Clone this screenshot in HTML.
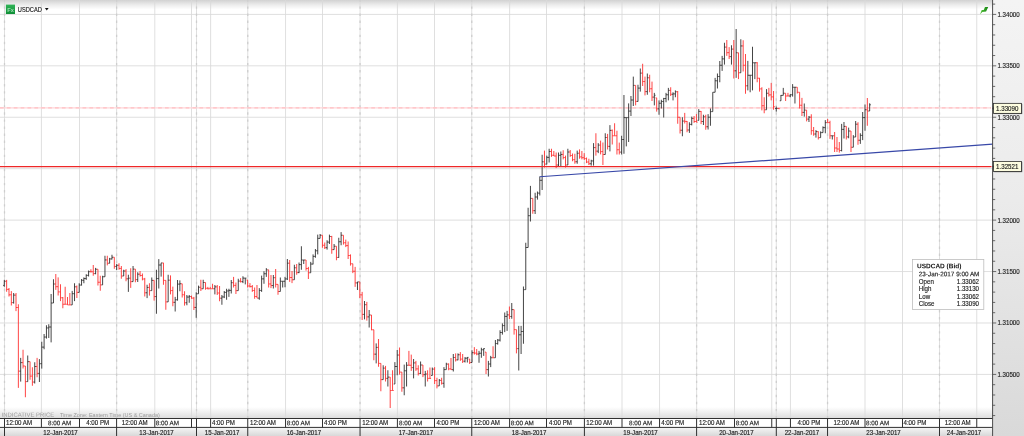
<!DOCTYPE html><html><head><meta charset="utf-8"><title>USDCAD</title><style>html,body{margin:0;padding:0;background:#fff;overflow:hidden}svg{display:block}</style></head><body><svg width="1024" height="436" viewBox="0 0 1024 436" font-family="Liberation Sans, sans-serif" font-size="6.55" stroke-width="0.15">
<defs>
<linearGradient id="gt" x1="0" y1="0" x2="0" y2="1"><stop offset="0" stop-color="#d2d2d2"/><stop offset="0.55" stop-color="#eeeeee"/><stop offset="1" stop-color="#ffffff"/></linearGradient>
<linearGradient id="gb" x1="0" y1="0" x2="0" y2="1"><stop offset="0" stop-color="#ffffff"/><stop offset="1" stop-color="#dcdcdc"/></linearGradient>
<linearGradient id="gi" x1="0" y1="0" x2="0" y2="1"><stop offset="0" stop-color="#2fb457"/><stop offset="1" stop-color="#0f8f37"/></linearGradient>
<linearGradient id="gg" x1="0" y1="0" x2="1" y2="0"><stop offset="0" stop-color="#58c63a"/><stop offset="1" stop-color="#128212"/></linearGradient>
<linearGradient id="gr" x1="0" y1="0" x2="0" y2="1"><stop offset="0" stop-color="#f4f4f4"/><stop offset="0.46" stop-color="#ebebeb"/><stop offset="1" stop-color="#d9d9d9"/></linearGradient>
<linearGradient id="gd" x1="0" y1="0" x2="0" y2="1"><stop offset="0" stop-color="#f6f6f6"/><stop offset="1" stop-color="#d8d8d8"/></linearGradient>
</defs>
<rect width="1024" height="436" fill="#fff"/>
<rect x="0" y="0" width="992.6" height="9.5" fill="url(#gt)"/>
<rect x="0" y="407" width="992.6" height="11.5" fill="url(#gb)"/>
<rect x="992.6" y="0" width="31.399999999999977" height="436" fill="url(#gr)"/>
<g stroke="#d9d9d9" stroke-width="0.85" fill="none"><line x1="0" x2="992.6" y1="14.40" y2="14.40"/><line x1="0" x2="992.6" y1="65.83" y2="65.83"/><line x1="0" x2="992.6" y1="117.26" y2="117.26"/><line x1="0" x2="992.6" y1="168.69" y2="168.69"/><line x1="0" x2="992.6" y1="220.12" y2="220.12"/><line x1="0" x2="992.6" y1="271.55" y2="271.55"/><line x1="0" x2="992.6" y1="322.98" y2="322.98"/><line x1="0" x2="992.6" y1="374.41" y2="374.41"/><line x1="4.5" x2="4.5" y1="0" y2="418.5"/><line x1="41.4" x2="41.4" y1="0" y2="418.5"/><line x1="79.5" x2="79.5" y1="0" y2="418.5"/><line x1="116.6" x2="116.6" y1="0" y2="418.5"/><line x1="154.8" x2="154.8" y1="0" y2="418.5"/><line x1="191.5" x2="191.5" y1="0" y2="418.5"/><line x1="196.5" x2="196.5" y1="0" y2="418.5"/><line x1="210.6" x2="210.6" y1="0" y2="418.5"/><line x1="247.75" x2="247.75" y1="0" y2="418.5"/><line x1="285.55" x2="285.55" y1="0" y2="418.5"/><line x1="322.5" x2="322.5" y1="0" y2="418.5"/><line x1="360.05" x2="360.05" y1="0" y2="418.5"/><line x1="397.4" x2="397.4" y1="0" y2="418.5"/><line x1="434.5" x2="434.5" y1="0" y2="418.5"/><line x1="471.75" x2="471.75" y1="0" y2="418.5"/><line x1="509.6" x2="509.6" y1="0" y2="418.5"/><line x1="546.5" x2="546.5" y1="0" y2="418.5"/><line x1="584.4" x2="584.4" y1="0" y2="418.5"/><line x1="622.0" x2="622.0" y1="0" y2="418.5"/><line x1="659.55" x2="659.55" y1="0" y2="418.5"/><line x1="696.6" x2="696.6" y1="0" y2="418.5"/><line x1="734.5" x2="734.5" y1="0" y2="418.5"/><line x1="771.75" x2="771.75" y1="0" y2="418.5"/><line x1="776.3" x2="776.3" y1="0" y2="418.5"/><line x1="790.45" x2="790.45" y1="0" y2="418.5"/><line x1="827.55" x2="827.55" y1="0" y2="418.5"/><line x1="865" x2="865" y1="0" y2="418.5"/><line x1="902.5" x2="902.5" y1="0" y2="418.5"/><line x1="939.5" x2="939.5" y1="0" y2="418.5"/><line x1="976.75" x2="976.75" y1="0" y2="418.5"/></g>
<g stroke="#cecece" stroke-width="1.3" fill="none" stroke-dasharray="2.4 4.66" stroke-dashoffset="0.6"><line x1="4.5" x2="4.5" y1="0" y2="418.5"/><line x1="116.6" x2="116.6" y1="0" y2="418.5"/><line x1="196.5" x2="196.5" y1="0" y2="418.5"/><line x1="247.75" x2="247.75" y1="0" y2="418.5"/><line x1="360.05" x2="360.05" y1="0" y2="418.5"/><line x1="471.75" x2="471.75" y1="0" y2="418.5"/><line x1="584.4" x2="584.4" y1="0" y2="418.5"/><line x1="696.6" x2="696.6" y1="0" y2="418.5"/><line x1="776.3" x2="776.3" y1="0" y2="418.5"/><line x1="827.55" x2="827.55" y1="0" y2="418.5"/><line x1="939.5" x2="939.5" y1="0" y2="418.5"/></g>
<line x1="0" x2="991" y1="107.9" y2="107.9" stroke="#ffd6d8" stroke-width="1.25"/>
<line x1="0" x2="991" y1="107.9" y2="107.9" stroke="#ffc0c4" stroke-width="1.25" stroke-dasharray="3.7 3.175"/>
<g stroke-width="0.9" fill="none"><path stroke="#ff3030" d="M6.65 279.88V291.75M5.5 281.25H6.65M6.65 289.38H7.8M8.99 288V296.5M7.84 289.38H8.99M8.99 294.8H10.14M11.33 291.12V305.5M10.18 294.8H11.33M11.33 302.62H12.48M16.01 293V311.12M14.86 295.12H16.01M16.01 307.5H17.16M18.36 304.25V387.88M17.21 307.5H18.36M18.36 371.15H19.51M23.04 349.75V368.5M21.89 362.62H23.04M23.04 366H24.19M25.38 366V397.25M24.23 366H25.38M25.38 381.62H26.53M30.06 361.62V379.75M28.91 361.62H30.06M30.06 376.12H31.21M32.4 367.25V385.75M31.25 376.12H32.4M32.4 382.05H33.55M37.08 357.88V377.25M35.93 366.5H37.08M37.08 373.38H38.23M55.81 274V289.88M54.66 284H55.81M55.81 286.7H56.96M58.15 277.38V295.5M57 286.7H58.15M58.15 291.88H59.3M60.49 284.25V301.12M59.34 291.88H60.49M60.49 297.75H61.64M62.83 297V308.25M61.68 297.75H62.83M62.83 304.25H63.98M65.17 286.75V304.25M64.02 304.25H65.17M65.17 304.25H66.32M67.51 297V304.88M66.36 304.25H67.51M67.51 304.88H68.66M69.85 293V304.88M68.7 304.88H69.85M69.85 304.88H71M76.87 285.5V298M75.72 286.82H76.87M76.87 292.38H78.02M90.92 269.25V272.38M89.77 271.7H90.92M90.92 271.75H92.07M93.26 265V275.75M92.11 271.75H93.26M93.26 273.6H94.41M97.94 269.25V285.5M96.79 269.25H97.94M97.94 282.25H99.09M100.28 275.75V290.75M99.13 282.25H100.28M100.28 284.88H101.43M107.3 255.75V265.38M106.15 259.95H107.3M107.3 263.25H108.45M114.32 257.25V268.75M113.17 257.25H114.32M114.32 266.45H115.47M119 263.25V269.75M117.85 265.3H119M119 268.45H120.15M121.34 266V278.75M120.19 268.45H121.34M121.34 276H122.49M126.03 269.12V281.25M124.88 271H126.03M126.03 278.82H127.18M130.71 268.25V287.88M129.56 278.18H130.71M130.71 281.62H131.86M135.39 269.12V282.25M134.24 269.12H135.39M135.39 279.62H136.54M140.07 271V276.62M138.92 274.2H140.07M140.07 275.5H141.22M142.41 273.5V280.38M141.26 275.5H142.41M142.41 279H143.56M144.75 277.88V296.5M143.6 279H144.75M144.75 292.77H145.9M149.43 283.25V295.62M148.28 287.43H149.43M149.43 290.62H150.58M154.11 280.38V300.62M152.96 280.38H154.11M154.11 296.57H155.26M163.48 262.88V284.75M162.33 262.94H163.48M163.48 280.38H164.63M165.82 280.38V309.75M164.67 280.38H165.82M165.82 301.88H166.97M170.5 275.38V294.38M169.35 280.18H170.5M170.5 290.57H171.65M172.84 286.62V306.25M171.69 290.57H172.84M172.84 302.32H173.99M182.2 283.75V297.5M181.05 283.75H182.2M182.2 294.75H183.35M184.54 291.25V305.62M183.39 294.75H184.54M184.54 302.75H185.69M191.56 295.62V298.75M190.41 296.55H191.56M191.56 298.12H192.71M193.9 296.88V310M192.75 298.12H193.9M193.9 307.38H195.05M200.87 279.75V291M199.72 287.25H200.87M200.87 288.75H202.02M205.54 282.5V289.75M204.39 282.5H205.54M205.54 288.3H206.69M207.88 286.88V289.38M206.73 288.3H207.88M207.88 288.75H209.03M210.22 286.88V288.75M209.07 288.75H210.22M210.22 288.75H211.37M212.55 283.75V288.75M211.4 288.75H212.55M212.55 288.75H213.7M217.23 285V295M216.08 286.88H217.23M217.23 293H218.38M219.57 286V301.25M218.42 293H219.57M219.57 298.2H220.72M233.59 276.88V287.5M232.44 282.7H233.59M233.59 285.38H234.74M235.93 282.5V294M234.78 285.38H235.93M235.93 290.62H237.08M240.6 278.12V282.5M239.45 281.12H240.6M240.6 281.62H241.75M247.62 280V287.5M246.47 280H247.62M247.62 286H248.77M249.95 283.12V287.5M248.8 286H249.95M249.95 286.62H251.1M252.29 285V291.88M251.14 286.62H252.29M252.29 290.5H253.44M254.63 287.5V298.75M253.48 290.5H254.63M254.63 296.5H255.78M256.97 285V298.12M255.82 296.5H256.97M256.97 298.12H258.12M268.65 269.75V287.5M267.5 269.88H268.65M268.65 283.95H269.8M270.99 275V288.12M269.84 283.95H270.99M270.99 285.5H272.14M275.67 269V287.5M274.52 277.7H275.67M275.67 284.38H276.82M278 284.38V294.75M276.85 284.38H278M278 291.5H279.15M289.69 260V281.88M288.54 263.2H289.69M289.69 277.5H290.84M292.03 271V283.12M290.88 277.5H292.03M292.03 279.75H293.18M296.7 264V274.75M295.55 267.75H296.7M296.7 272.6H297.85M306.05 260V270.62M304.9 260H306.05M306.05 268.5H307.2M308.39 266.88V279M307.24 268.5H308.39M308.39 272.75H309.54M322.42 235.25V247.75M321.27 235.25H322.42M322.42 245.25H323.57M324.75 242.5V249M323.6 245.25H324.75M324.75 247.7H325.9M331.77 235.88V253.75M330.62 236.5H331.77M331.77 249.62H332.92M336.44 246.25V260.25M335.29 246.25H336.44M336.44 257.45H337.59M343.45 235.25V244.62M342.3 235.25H343.45M343.45 242.75H344.6M345.79 239.62V247.12M344.64 242.75H345.79M345.79 245.62H346.94M348.13 241.5V259M346.98 245.62H348.13M348.13 255.5H349.28M350.47 254.38V265.62M349.32 255.5H350.47M350.47 263.75H351.62M352.8 263.75V273.12M351.65 263.75H352.8M352.8 271.25H353.95M355.14 266.88V286.88M353.99 271.25H355.14M355.14 282.88H356.29M359.82 281.88V298.12M358.67 281.88H359.82M359.82 294.88H360.97M362.15 291.88V320M361 294.88H362.15M362.15 314.38H363.3M366.83 301.88V320.62M365.68 304.68H366.83M366.83 316.88H367.98M371.5 315V330.25M370.35 315H371.5M371.5 329.75H372.65M373.84 329.75V360.25M372.69 329.75H373.84M373.84 354.15H374.99M378.52 339V366.75M377.37 347.38H378.52M378.52 363.38H379.67M380.85 363.38V391.25M379.7 363.38H380.85M380.85 379.62H382M385.53 365.88V381.5M384.38 368.12H385.53M385.53 378.38H386.68M390.2 377.12V408M389.05 377.12H390.2M390.2 390.5H391.35M392.54 370.25V390.5M391.39 390.5H392.54M392.54 390.5H393.69M399.55 347.5V374.62M398.4 355.05H399.55M399.55 372.12H400.7M401.89 372.12V391.75M400.74 372.12H401.89M401.89 387.82H403.04M408.9 350.88V365.25M407.75 365.25H408.9M408.9 365.25H410.05M411.24 354.62V370.88M410.09 365.25H411.24M411.24 367.62H412.39M415.92 360.88V370.88M414.77 362.88H415.92M415.92 368.88H417.07M418.25 365.25V375.5M417.1 368.88H418.25M418.25 373.45H419.4M422.93 365V377.12M421.78 365H422.93M422.93 374.7H424.08M427.6 370.25V381.5M426.45 374H427.6M427.6 378.38H428.75M429.94 367.5V378.38M428.79 378.38H429.94M429.94 378.38H431.09M434.61 367.12V384M433.46 369.1H434.61M434.61 380.62H435.76M436.95 377.75V388.38M435.8 380.62H436.95M436.95 385.88H438.1M441.63 377.75V384.62M440.48 380.38H441.63M441.63 383.25H442.78M448.64 363.38V370.25M447.49 364.12H448.64M448.64 368.88H449.79M450.98 358V369.62M449.83 368.88H450.98M450.98 369.62H452.13M455.65 353.38V361.5M454.5 357.5H455.65M455.65 359.88H456.8M460.33 352.12V360.88M459.18 354.75H460.33M460.33 359.12H461.48M462.66 354V363M461.51 359.12H462.66M462.66 361.2H463.81M469.68 359V364M468.53 359H469.68M469.68 362.5H470.83M474.35 347.12V354.62M473.2 352.7H474.35M474.35 353.12H475.5M476.69 349V355.25M475.54 353.12H476.69M476.69 354H477.84M486.04 352.12V374M484.89 352.12H486.04M486.04 369.62H487.19M493.05 346.25V357.75M491.9 357.75H493.05M493.05 357.75H494.2M509.41 306.5V319M508.26 314.88H509.41M509.41 316.5H510.56M514.09 309.62V334.62M512.94 309.62H514.09M514.09 329.62H515.24M516.43 329.62V353.38M515.28 329.62H516.43M516.43 348.62H517.58M532.79 198.38V213.75M531.64 198.38H532.79M532.79 210.68H533.94M544.48 150.62V167.5M543.33 161.8H544.48M544.48 164.12H545.63M551.49 148.75V156.88M550.34 151.5H551.49M551.49 155.25H552.64M553.83 151V156M552.68 155.25H553.83M553.83 156H554.98M556.16 152.5V168.12M555.01 156H556.16M556.16 165H557.31M563.18 150.25V159.38M562.03 154.45H563.18M563.18 157.55H564.33M565.51 155.62V167.5M564.36 157.55H565.51M565.51 165H566.66M570.19 150V156.88M569.04 152H570.19M570.19 155.5H571.34M572.53 153.5V161.25M571.38 155.5H572.53M572.53 159.7H573.68M574.86 153.75V163.75M573.71 159.7H574.86M574.86 161.75H576.01M579.54 149.38V158.75M578.39 153.25H579.54M579.54 156.88H580.69M581.88 151V159.38M580.73 156.88H581.88M581.88 157.7H583.03M584.21 153.12V160M583.06 157.7H584.21M584.21 158.62H585.36M586.55 157.5V163.12M585.4 158.62H586.55M586.55 162H587.7M588.89 158.75V165M587.74 162H588.89M588.89 163.75H590.04M595.9 133.25V155.62M594.75 147.62H595.9M595.9 151.15H597.05M600.58 140.62V154.38M599.43 145.12H600.58M600.58 151.62H601.73M602.91 142.5V165M601.76 151.62H602.91M602.91 154.5H604.06M607.59 133.88V149.5M606.44 137.5H607.59M607.59 146.38H608.74M612.26 129.5V144.5M611.11 130.38H612.26M612.26 135.75H613.41M614.6 123.25V135.75M613.45 135.75H614.6M614.6 135.75H615.75M616.94 130.75V154.5M615.79 135.75H616.94M616.94 149.75H618.09M619.28 142.62V154.5M618.13 149.75H619.28M619.28 152.12H620.43M635.64 85.38V105.38M634.49 85.38H635.64M635.64 101.38H636.79M642.65 63.75V86M641.5 73.12H642.65M642.65 81.55H643.8M644.99 76.62V95.38M643.84 81.55H644.99M644.99 91.62H646.14M649.66 74.75V92.25M648.51 77.75H649.66M649.66 88.75H650.81M652 81.62V101M650.85 88.75H652M652 97.12H653.15M656.68 97.88V111.62M655.53 97.88H656.68M656.68 108.88H657.83M670.7 87.25V96M669.55 90.38H670.7M670.7 94.25H671.85M677.71 91V123.75M676.56 91.75H677.71M677.71 117.25H678.86M680.05 117.25V133.5M678.9 117.25H680.05M680.05 130.25H681.2M684.73 112.88V123.5M683.58 121.05H684.73M684.73 121.38H685.88M687.06 121V132.25M685.91 121.38H687.06M687.06 130H688.21M694.08 116V122.88M692.93 118.38H694.08M694.08 121.5H695.23M696.41 114.12V122.25M695.26 121.5H696.41M696.41 122.25H697.56M701.09 111V124.12M699.94 111.38H701.09M701.09 121.5H702.24M705.76 114.75V129.75M704.61 116.8H705.76M705.76 126.75H706.91M726.8 40V55.88M725.65 47.12H726.8M726.8 52.7H727.95M729.14 47.12V59M727.99 52.7H729.14M729.14 56.62H730.29M733.81 40V78.5M732.66 49.12H733.81M733.81 70.8H734.96M738.49 52.75V79.12M737.34 52.75H738.49M738.49 72.75H739.64M743.16 40.25V71.5M742.01 45.95H743.16M743.16 65.25H744.31M745.5 54V93.75M744.35 65.25H745.5M745.5 85.8H746.65M757.19 62.12V82.25M756.04 62.75H757.19M757.19 78.22H758.34M759.52 77.88V91.62M758.37 78.22H759.52M759.52 88.88H760.67M761.86 87.25V110.38M760.71 88.88H761.86M761.86 105.75H763.01M764.2 97.25V113.25M763.05 105.75H764.2M764.2 109.75H765.35M768.87 87.88V96.62M767.72 93.25H768.87M768.87 94.88H770.02M771.21 82.88V100.38M770.06 94.88H771.21M771.21 96.88H772.36M773.55 91V109.75M772.4 96.88H773.55M773.55 106.62H774.7M778.6 108.25V109M777.45 108.5H778.6M778.6 108.75H779.75M785.61 93.25V101M784.46 93.25H785.61M785.61 96H786.76M787.94 92.88V96M786.79 96H787.94M787.94 96H789.09M797.28 87.25V93.5M796.13 87.25H797.28M797.28 92.25H798.43M799.62 92.25V108.5M798.47 92.25H799.62M799.62 105.25H800.77M801.95 97.88V116M800.8 105.25H801.95M801.95 112.38H803.1M806.62 110.12V121.38M805.47 110.12H806.62M806.62 119.12H807.77M811.29 114.25V134.75M810.14 117.2H811.29M811.29 130.65H812.44M813.63 127V135.75M812.48 130.65H813.63M813.63 134H814.78M818.3 131.38V139.5M817.15 131.62H818.3M818.3 137.62H819.45M827.64 118.88V122.62M826.49 122.62H827.64M827.64 122.62H828.79M829.97 120.75V138.88M828.82 122.62H829.97M829.97 135.75H831.12M834.64 132V152M833.49 135.75H834.64M834.64 148H835.79M836.98 137V152M835.83 148H836.98M836.98 149H838.13M839.31 142V152.62M838.16 149H839.31M839.31 150.5H840.46M846.32 126.38V139.5M845.17 126.38H846.32M846.32 136.88H847.47M850.99 131V152M849.84 131H850.99M850.99 147.25H852.14M857.99 122.25V144.75M856.84 124.2H857.99M857.99 140.25H859.14M867.33 98V125.75M866.18 109.75H867.33M867.33 111H868.48"/><path stroke="#303030" d="M4.31 279.88V286.75M3.16 285.38H4.31M4.31 281.25H5.46M13.67 293V303.62M12.52 302.62H13.67M13.67 295.12H14.82M20.7 357.88V381.62M19.55 371.15H20.7M20.7 362.62H21.85M27.72 355.5V381.62M26.57 381.62H27.72M27.72 361.62H28.87M34.74 362.25V383.5M33.59 382.05H34.74M34.74 366.5H35.89M39.42 359.12V382M38.27 373.38H39.42M39.42 363.7H40.57M41.76 341.75V368.62M40.61 363.7H41.76M41.76 347.12H42.91M44.1 334V349.25M42.95 347.12H44.1M44.1 337.05H45.25M46.44 325.25V338.62M45.29 337.05H46.44M46.44 327.93H47.59M48.78 324.25V338M47.63 327.93H48.78M48.78 327H49.93M51.12 294V342.38M49.97 327H51.12M51.12 303H52.27M53.47 279.25V303M52.32 303H53.47M53.47 284H54.62M72.19 290.88V304.88M71.04 304.88H72.19M72.19 293.68H73.34M74.53 283.25V301.12M73.38 293.68H74.53M74.53 286.82H75.68M79.21 283.25V292.38M78.06 292.38H79.21M79.21 285.07H80.36M81.55 279V285.5M80.4 285.07H81.55M81.55 280.3H82.7M83.89 277.38V283.25M82.74 280.3H83.89M83.89 278.55H85.04M86.23 274.25V279.88M85.08 278.55H86.23M86.23 275.38H87.38M88.58 270.5V276.5M87.43 275.38H88.58M88.58 271.7H89.73M95.6 267.88V274.25M94.45 273.6H95.6M95.6 269.25H96.75M102.62 275.75V284.88M101.47 284.88H102.62M102.62 276.75H103.77M104.96 255.75V276.75M103.81 276.75H104.96M104.96 259.95H106.11M109.64 257.88V263.25M108.49 263.25H109.64M109.64 258.95H110.79M111.98 254.75V259.5M110.83 258.95H111.98M111.98 257.25H113.13M116.66 264.12V270M115.51 266.45H116.66M116.66 265.3H117.81M123.69 269.75V276M122.54 276H123.69M123.69 271H124.84M128.37 274.75V291.88M127.22 278.82H128.37M128.37 278.18H129.52M133.05 266V281.62M131.9 281.62H133.05M133.05 269.12H134.2M137.73 272.25V282M136.58 279.62H137.73M137.73 274.2H138.88M147.09 284.75V298.12M145.94 292.77H147.09M147.09 287.43H148.24M151.77 277.5V290.62M150.62 290.62H151.77M151.77 280.38H152.92M156.45 269.75V313.75M155.3 296.57H156.45M156.45 278.55H157.6M158.79 259.12V288.5M157.64 278.55H158.79M158.79 265H159.94M161.14 262.88V276.62M159.99 265H161.14M161.14 262.94H162.29M168.16 274.75V301.88M167.01 301.88H168.16M168.16 280.18H169.31M175.18 296.88V311.5M174.03 302.32H175.18M175.18 299.8H176.33M177.52 280V300.62M176.37 299.8H177.52M177.52 284.12H178.67M179.86 280.38V291.25M178.71 284.12H179.86M179.86 283.75H181.01M186.88 295V305.25M185.73 302.75H186.88M186.88 297.05H188.03M189.22 295V302.75M188.07 297.05H189.22M189.22 296.55H190.37M196.19 292.25V317.75M195.04 307.38H196.19M196.19 293.75H197.34M198.53 285.62V293.75M197.38 293.75H198.53M198.53 287.25H199.68M203.2 279.75V288.75M202.05 288.75H203.2M203.2 282.5H204.35M214.89 285V294.38M213.74 288.75H214.89M214.89 286.88H216.04M221.9 295V304.75M220.75 298.2H221.9M221.9 296.95H223.05M224.24 291V298.12M223.09 296.95H224.24M224.24 292.43H225.39M226.58 288.75V299.75M225.43 292.43H226.58M226.58 290.95H227.73M228.92 288.75V296.88M227.77 290.95H228.92M228.92 290.38H230.07M231.25 280V293.5M230.1 290.38H231.25M231.25 282.7H232.4M238.27 278.75V290.62M237.12 290.62H238.27M238.27 281.12H239.42M242.94 276.25V283.12M241.79 281.62H242.94M242.94 278.12H244.09M245.28 278.12V284.38M244.13 278.12H245.28M245.28 278.12H246.43M259.3 288.12V299.75M258.15 298.12H259.3M259.3 290.45H260.45M261.64 275.62V291.88M260.49 290.45H261.64M261.64 278.88H262.79M263.98 271.25V283.75M262.83 278.88H263.98M263.98 273.75H265.13M266.32 268.12V276.88M265.17 273.75H266.32M266.32 269.88H267.47M273.33 275V288.5M272.18 285.5H273.33M273.33 277.7H274.48M280.34 277.5V291.5M279.19 291.5H280.34M280.34 281.25H281.49M282.68 281.25V287.5M281.53 281.25H282.68M282.68 281.25H283.83M285.02 276.88V287.25M283.87 281.25H285.02M285.02 278.95H286.17M287.35 259V280M286.2 278.95H287.35M287.35 263.2H288.5M294.37 264.75V279.75M293.22 279.75H294.37M294.37 267.75H295.52M299.04 262.5V273.12M297.89 272.6H299.04M299.04 264.62H300.19M301.38 246.25V269.75M300.23 264.62H301.38M301.38 260H302.53M303.72 260V264M302.57 260H303.72M303.72 260H304.87M310.73 261.88V272.75M309.58 272.75H310.73M310.73 264.05H311.88M313.07 254.38V264.38M311.92 264.05H313.07M313.07 256.38H314.22M315.4 249V257.75M314.25 256.38H315.4M315.4 250.75H316.55M317.74 234.62V254.38M316.59 250.75H317.74M317.74 238.38H318.89M320.08 234V238.38M318.93 238.38H320.08M320.08 235.25H321.23M327.09 240.25V249.62M325.94 247.7H327.09M327.09 242.12H328.24M329.43 234.62V244M328.28 242.12H329.43M329.43 236.5H330.58M334.1 244V249.62M332.95 249.62H334.1M334.1 246.25H335.25M338.78 237.75V257.75M337.63 257.45H338.78M338.78 241.75H339.93M341.12 232.12V245.25M339.97 241.75H341.12M341.12 235.25H342.27M357.48 281.88V290M356.33 282.88H357.48M357.48 281.88H358.63M364.49 301V319.38M363.34 314.38H364.49M364.49 304.68H365.64M369.17 310V327.5M368.02 316.88H369.17M369.17 315H370.32M376.18 343.38V363.38M375.03 354.15H376.18M376.18 347.38H377.33M383.19 365.25V379.62M382.04 379.62H383.19M383.19 368.12H384.34M387.87 370.25V386.5M386.72 378.38H387.87M387.87 377.12H389.02M394.88 362.12V384M393.73 384H394.88M394.88 366.5H396.03M397.22 350V375.25M396.07 366.5H397.22M397.22 355.05H398.37M404.23 364.62V395.25M403.08 387.82H404.23M404.23 370.75H405.38M406.57 362.12V386.5M405.42 370.75H406.57M406.57 365.25H407.72M413.58 359V378.38M412.43 367.62H413.58M413.58 362.88H414.73M420.59 361.5V374M419.44 373.45H420.59M420.59 365H421.74M425.26 370.88V386.5M424.11 374.7H425.26M425.26 374H426.41M432.28 367.5V375.5M431.13 375.5H432.28M432.28 369.1H433.43M439.29 379V385.88M438.14 385.88H439.29M439.29 380.38H440.44M443.96 367.12V387.75M442.81 383.25H443.96M443.96 369.62H445.11M446.3 362.75V369.62M445.15 369.62H446.3M446.3 364.12H447.45M453.31 354V371.5M452.16 369.62H453.31M453.31 357.5H454.46M457.99 353.38V360.25M456.84 359.88H457.99M457.99 354.75H459.14M465 357.12V362.5M463.85 361.2H465M465 358.2H466.15M467.34 357.12V362.5M466.19 358.2H467.34M467.34 357.39H468.49M472.01 350.25V362.5M470.86 362.5H472.01M472.01 352.7H473.16M479.03 350.88V362.75M477.88 354H479.03M479.03 353.25H480.18M481.36 347.75V357.75M480.21 353.25H481.36M481.36 349.75H482.51M483.7 348.38V355.88M482.55 349.75H483.7M483.7 348.62H484.85M488.38 360.88V376.5M487.23 369.62H488.38M488.38 364H489.53M490.71 355.88V367.12M489.56 364H490.71M490.71 357.75H491.86M495.39 340V357.75M494.24 357.75H495.39M495.39 343.55H496.54M497.73 339V344.62M496.58 343.55H497.73M497.73 340.12H498.88M500.06 330.25V341.5M498.91 340.12H500.06M500.06 332.5H501.21M502.4 323.38V334.62M501.25 332.5H502.4M502.4 325.62H503.55M504.74 312.5V332.12M503.59 325.62H504.74M504.74 316.43H505.89M507.08 310.88V330.88M505.93 316.43H507.08M507.08 314.88H508.23M511.75 303V318.75M510.6 316.5H511.75M511.75 309.62H512.9M518.76 325.88V370.5M517.61 348.62H518.76M518.76 334.8H519.91M521.1 325.88V354M519.95 334.8H521.1M521.1 331.5H522.25M523.44 286.5V343.75M522.29 331.5H523.44M523.44 289.62H524.59M525.78 242.75V289.62M524.63 289.62H525.78M525.78 247.5H526.93M528.11 207.75V247.5M526.96 247.5H528.11M528.11 215.7H529.26M530.45 185.88V221.5M529.3 215.7H530.45M530.45 198.38H531.6M535.13 192.75V214M533.98 210.68H535.13M535.13 197H536.28M537.46 191.5V199.62M536.31 197H537.46M537.46 193.12H538.61M539.8 176.5V195.5M538.65 193.12H539.8M539.8 180.3H540.95M542.14 154.75V190M540.99 180.3H542.14M542.14 161.8H543.29M546.81 155.62V164.38M545.66 164.12H546.81M546.81 157.38H547.96M549.15 148.75V162.5M548 157.38H549.15M549.15 151.5H550.3M558.5 152.5V166.5M557.35 165H558.5M558.5 155.3H559.65M560.84 151.5V166.25M559.69 155.3H560.84M560.84 154.45H561.99M567.85 148.75V165M566.7 165H567.85M567.85 152H569M577.2 150.62V163.75M576.05 161.75H577.2M577.2 153.25H578.35M591.23 159.75V165.62M590.08 163.75H591.23M591.23 160.93H592.38M593.56 143.12V165.62M592.41 160.93H593.56M593.56 147.62H594.71M598.24 143.12V153.12M597.09 151.15H598.24M598.24 145.12H599.39M605.25 133.25V154.5M604.1 154.5H605.25M605.25 137.5H606.4M609.93 125.12V151.38M608.78 146.38H609.93M609.93 130.38H611.08M621.61 135.75V154.5M620.46 152.12H621.61M621.61 139.5H622.76M623.95 95V153.75M622.8 139.5H623.95M623.95 117.62H625.1M626.29 117.62V146.38M625.14 117.62H626.29M626.29 117.62H627.44M628.63 103.38V142M627.48 117.62H628.63M628.63 111.1H629.78M630.96 96V116M629.81 111.1H630.96M630.96 100H632.11M633.3 76.62V106M632.15 100H633.3M633.3 85.38H634.45M637.98 84.75V101.62M636.83 101.38H637.98M637.98 88.12H639.13M640.31 68.5V91.62M639.16 88.12H640.31M640.31 73.12H641.46M647.33 73.5V94.75M646.18 91.62H647.33M647.33 77.75H648.48M654.34 92.88V105.38M653.19 97.12H654.34M654.34 95.25H655.49M659.01 100.38V114.75M657.86 108.88H659.01M659.01 103.25H660.16M661.35 99.75V108.5M660.2 103.25H661.35M661.35 101.5H662.5M663.69 97.88V117.5M662.54 101.5H663.69M663.69 98.56H664.84M666.03 92.88V102.25M664.88 98.56H666.03M666.03 94.75H667.18M668.36 87.88V100.38M667.21 94.75H668.36M668.36 90.38H669.51M673.04 92.25V100.38M671.89 94.25H673.04M673.04 93.88H674.19M675.38 90.38V97.25M674.23 93.88H675.38M675.38 91.75H676.53M682.39 117.25V136.25M681.24 130.25H682.39M682.39 121.05H683.54M689.4 122.25V132.88M688.25 130H689.4M689.4 124.38H690.55M691.74 116.62V125.38M690.59 124.38H691.74M691.74 118.38H692.89M698.75 109.12V120.38M697.6 120.38H698.75M698.75 111.38H699.9M703.43 114.75V125M702.28 121.5H703.43M703.43 116.8H704.58M708.1 114.12V129.5M706.95 126.75H708.1M708.1 117.2H709.25M710.44 108.5V125.75M709.29 117.2H710.44M710.44 111.62H711.59M712.78 92.25V111.62M711.63 111.62H712.78M712.78 92.25H713.93M715.11 77.88V92.25M713.96 92.25H715.11M715.11 80.75H716.26M717.45 73.5V88.5M716.3 80.75H717.45M717.45 76.5H718.6M719.79 61V82.25M718.64 76.5H719.79M719.79 65.25H720.94M722.13 55.88V70.88M720.98 65.25H722.13M722.13 58.88H723.28M724.46 42.75V64.62M723.31 58.88H724.46M724.46 47.12H725.61M731.47 45.25V64.62M730.32 56.62H731.47M731.47 49.12H732.62M736.15 29V77.88M735 70.8H736.15M736.15 52.75H737.3M740.82 39.25V72.75M739.67 72.75H740.82M740.82 45.95H741.97M747.84 60.88V90.38M746.69 85.8H747.84M747.84 75.25H748.99M750.17 75.25V92.25M749.02 75.25H750.17M750.17 75.25H751.32M752.51 46.75V90.38M751.36 75.25H752.51M752.51 62.75H753.66M754.85 62.75V79.12M753.7 62.75H754.85M754.85 62.75H756M766.54 89.12V109.75M765.39 109.75H766.54M766.54 93.25H767.69M776.26 106.62V111.62M775.11 108.5H776.26M776.26 108.5H777.41M780.93 95V100.75M779.78 100.75H780.93M780.93 95.38H782.08M783.27 87.88V95.38M782.12 95.38H783.27M783.27 93.25H784.42M790.28 94.12V97.25M789.13 96H790.28M790.28 94.75H791.43M792.61 84.12V96.62M791.46 94.75H792.61M792.61 87.25H793.76M794.95 87.25V103.5M793.8 87.25H794.95M794.95 87.25H796.1M804.29 103.5V116.62M803.14 112.38H804.29M804.29 110.12H805.44M808.96 116V122M807.81 119.12H808.96M808.96 117.2H810.11M815.96 130.12V137.62M814.81 134H815.96M815.96 131.62H817.11M820.63 131.38V137.62M819.48 137.62H820.63M820.63 132.62H821.78M822.97 126.38V132.62M821.82 132.62H822.97M822.97 127.62H824.12M825.3 120.12V133.25M824.15 127.62H825.3M825.3 122.62H826.45M832.31 135.75V139.5M831.16 135.75H832.31M832.31 135.75H833.46M841.65 123.88V151.38M840.5 150.5H841.65M841.65 129.38H842.8M843.98 122V138.5M842.83 129.38H843.98M843.98 126.38H845.13M848.65 127.62V138.25M847.5 136.88H848.65M848.65 131H849.8M853.32 135.12V147.25M852.17 147.25H853.32M853.32 137H854.47M855.66 121V137M854.51 137H855.66M855.66 124.2H856.81M860.33 133.25V143.88M859.18 140.25H860.33M860.33 135.38H861.48M862.66 112V140.12M861.51 135.38H862.66M862.66 117.62H863.81M865 104.5V130.75M863.85 117.62H865M865 109.75H866.15M869.67 103.25V111M868.52 111H869.67M869.67 104.8H870.82"/></g>
<line x1="0" x2="991.5" y1="166.6" y2="166.6" stroke="#ee2828" stroke-width="1.35"/>
<line x1="539.75" y1="176.75" x2="992.6" y2="144.2" stroke="#3848a8" stroke-width="1.25"/>
<rect x="0" y="418.5" width="992.6" height="17.5" fill="#fff"/>
<rect x="0" y="427.4" width="992.6" height="8.600000000000023" fill="url(#gd)"/>
<g stroke="#303030" stroke-width="1"><line x1="0" x2="992.6" y1="418.5" y2="418.5"/><line x1="0" x2="992.6" y1="427.4" y2="427.4"/><line x1="4.5" x2="4.5" y1="418.5" y2="427.4"/><line x1="41.4" x2="41.4" y1="418.5" y2="427.4"/><line x1="79.5" x2="79.5" y1="418.5" y2="427.4"/><line x1="116.6" x2="116.6" y1="418.5" y2="427.4"/><line x1="154.8" x2="154.8" y1="418.5" y2="427.4"/><line x1="191.5" x2="191.5" y1="418.5" y2="427.4"/><line x1="196.5" x2="196.5" y1="418.5" y2="427.4"/><line x1="210.6" x2="210.6" y1="418.5" y2="427.4"/><line x1="247.75" x2="247.75" y1="418.5" y2="427.4"/><line x1="285.55" x2="285.55" y1="418.5" y2="427.4"/><line x1="322.5" x2="322.5" y1="418.5" y2="427.4"/><line x1="360.05" x2="360.05" y1="418.5" y2="427.4"/><line x1="397.4" x2="397.4" y1="418.5" y2="427.4"/><line x1="434.5" x2="434.5" y1="418.5" y2="427.4"/><line x1="471.75" x2="471.75" y1="418.5" y2="427.4"/><line x1="509.6" x2="509.6" y1="418.5" y2="427.4"/><line x1="546.5" x2="546.5" y1="418.5" y2="427.4"/><line x1="584.4" x2="584.4" y1="418.5" y2="427.4"/><line x1="622.0" x2="622.0" y1="418.5" y2="427.4"/><line x1="659.55" x2="659.55" y1="418.5" y2="427.4"/><line x1="696.6" x2="696.6" y1="418.5" y2="427.4"/><line x1="734.5" x2="734.5" y1="418.5" y2="427.4"/><line x1="771.75" x2="771.75" y1="418.5" y2="427.4"/><line x1="776.3" x2="776.3" y1="418.5" y2="427.4"/><line x1="790.45" x2="790.45" y1="418.5" y2="427.4"/><line x1="827.55" x2="827.55" y1="418.5" y2="427.4"/><line x1="865" x2="865" y1="418.5" y2="427.4"/><line x1="902.5" x2="902.5" y1="418.5" y2="427.4"/><line x1="939.5" x2="939.5" y1="418.5" y2="427.4"/><line x1="976.75" x2="976.75" y1="418.5" y2="427.4"/><line x1="4.5" x2="4.5" y1="427.4" y2="436"/><line x1="116.6" x2="116.6" y1="427.4" y2="436"/><line x1="196.5" x2="196.5" y1="427.4" y2="436"/><line x1="247.75" x2="247.75" y1="427.4" y2="436"/><line x1="360.05" x2="360.05" y1="427.4" y2="436"/><line x1="471.75" x2="471.75" y1="427.4" y2="436"/><line x1="584.4" x2="584.4" y1="427.4" y2="436"/><line x1="696.6" x2="696.6" y1="427.4" y2="436"/><line x1="776.3" x2="776.3" y1="427.4" y2="436"/><line x1="827.55" x2="827.55" y1="427.4" y2="436"/><line x1="939.5" x2="939.5" y1="427.4" y2="436"/></g>
<g fill="#222" stroke="#222"><text transform="matrix(0.9389 0.000469 0 1 6.10 425.25)">12:00 AM</text><text transform="matrix(0.9654 0.000483 0 1 48.00 425.25)">8:00 AM</text><text transform="matrix(0.9389 0.000469 0 1 86.25 425.25)">4:00 PM</text><text transform="matrix(0.9389 0.000469 0 1 121.75 425.25)">12:00 AM</text><text transform="matrix(0.9654 0.000483 0 1 155.75 425.25)">8:00 AM</text><text transform="matrix(0.9389 0.000469 0 1 212.00 425.25)">4:00 PM</text><text transform="matrix(0.9389 0.000469 0 1 250.00 425.25)">12:00 AM</text><text transform="matrix(0.9654 0.000483 0 1 286.75 425.25)">8:00 AM</text><text transform="matrix(0.9389 0.000469 0 1 324.00 425.25)">4:00 PM</text><text transform="matrix(0.9389 0.000469 0 1 362.25 425.25)">12:00 AM</text><text transform="matrix(0.9654 0.000483 0 1 399.00 425.25)">8:00 AM</text><text transform="matrix(0.9389 0.000469 0 1 436.50 425.25)">4:00 PM</text><text transform="matrix(0.9389 0.000469 0 1 474.00 425.25)">12:00 AM</text><text transform="matrix(0.9654 0.000483 0 1 510.70 425.25)">8:00 AM</text><text transform="matrix(0.9389 0.000469 0 1 549.00 425.25)">4:00 PM</text><text transform="matrix(0.9389 0.000469 0 1 586.25 425.25)">12:00 AM</text><text transform="matrix(0.9654 0.000483 0 1 629.00 425.25)">8:00 AM</text><text transform="matrix(0.9389 0.000469 0 1 661.25 425.25)">4:00 PM</text><text transform="matrix(0.9389 0.000469 0 1 699.00 425.25)">12:00 AM</text><text transform="matrix(0.9654 0.000483 0 1 735.75 425.25)">8:00 AM</text><text transform="matrix(0.9389 0.000469 0 1 797.50 425.25)">4:00 PM</text><text transform="matrix(0.9389 0.000469 0 1 833.50 425.25)">12:00 AM</text><text transform="matrix(0.9654 0.000483 0 1 866.00 425.25)">8:00 AM</text><text transform="matrix(0.9389 0.000469 0 1 903.50 425.25)">4:00 PM</text><text transform="matrix(0.9389 0.000469 0 1 944.75 425.25)">12:00 AM</text><text transform="matrix(0.9389 0.000469 0 1 43.28 434.50)">12-Jan-2017</text><text transform="matrix(0.9389 0.000469 0 1 139.28 434.50)">13-Jan-2017</text><text transform="matrix(0.9389 0.000469 0 1 204.86 434.50)">15-Jan-2017</text><text transform="matrix(0.9389 0.000469 0 1 286.63 434.50)">16-Jan-2017</text><text transform="matrix(0.9389 0.000469 0 1 398.63 434.50)">17-Jan-2017</text><text transform="matrix(0.9389 0.000469 0 1 511.81 434.50)">18-Jan-2017</text><text transform="matrix(0.9389 0.000469 0 1 623.23 434.50)">19-Jan-2017</text><text transform="matrix(0.9389 0.000469 0 1 719.18 434.50)">20-Jan-2017</text><text transform="matrix(0.9389 0.000469 0 1 784.66 434.50)">22-Jan-2017</text><text transform="matrix(0.9389 0.000469 0 1 866.26 434.50)">23-Jan-2017</text><text transform="matrix(0.9389 0.000469 0 1 946.78 434.50)">24-Jan-2017</text></g>
<text transform="matrix(0.9900 0.000495 0 1 1.50 416.70)" fill="#9c9c9c" font-size="6.0">INDICATIVE PRICE</text>
<text transform="matrix(0.9133 0.000457 0 1 60.00 416.70)" fill="#9c9c9c" font-size="6.0">Time Zone: Eastern Time (US &amp; Canada)</text>
<line x1="992.6" x2="992.6" y1="0" y2="436" stroke="#4a4a4a" stroke-width="1"/>
<g stroke="#4a4a4a" stroke-width="0.8"><line x1="992.6" x2="995.2" y1="4.11" y2="4.11"/><line x1="992.6" x2="996.2" y1="14.40" y2="14.40"/><line x1="992.6" x2="995.2" y1="24.69" y2="24.69"/><line x1="992.6" x2="995.2" y1="34.97" y2="34.97"/><line x1="992.6" x2="995.2" y1="45.26" y2="45.26"/><line x1="992.6" x2="995.2" y1="55.54" y2="55.54"/><line x1="992.6" x2="996.2" y1="65.83" y2="65.83"/><line x1="992.6" x2="995.2" y1="76.12" y2="76.12"/><line x1="992.6" x2="995.2" y1="86.40" y2="86.40"/><line x1="992.6" x2="995.2" y1="96.69" y2="96.69"/><line x1="992.6" x2="995.2" y1="106.97" y2="106.97"/><line x1="992.6" x2="996.2" y1="117.26" y2="117.26"/><line x1="992.6" x2="995.2" y1="127.55" y2="127.55"/><line x1="992.6" x2="995.2" y1="137.83" y2="137.83"/><line x1="992.6" x2="995.2" y1="148.12" y2="148.12"/><line x1="992.6" x2="995.2" y1="158.40" y2="158.40"/><line x1="992.6" x2="996.2" y1="168.69" y2="168.69"/><line x1="992.6" x2="995.2" y1="178.98" y2="178.98"/><line x1="992.6" x2="995.2" y1="189.26" y2="189.26"/><line x1="992.6" x2="995.2" y1="199.55" y2="199.55"/><line x1="992.6" x2="995.2" y1="209.83" y2="209.83"/><line x1="992.6" x2="996.2" y1="220.12" y2="220.12"/><line x1="992.6" x2="995.2" y1="230.41" y2="230.41"/><line x1="992.6" x2="995.2" y1="240.69" y2="240.69"/><line x1="992.6" x2="995.2" y1="250.98" y2="250.98"/><line x1="992.6" x2="995.2" y1="261.26" y2="261.26"/><line x1="992.6" x2="996.2" y1="271.55" y2="271.55"/><line x1="992.6" x2="995.2" y1="281.84" y2="281.84"/><line x1="992.6" x2="995.2" y1="292.12" y2="292.12"/><line x1="992.6" x2="995.2" y1="302.41" y2="302.41"/><line x1="992.6" x2="995.2" y1="312.69" y2="312.69"/><line x1="992.6" x2="996.2" y1="322.98" y2="322.98"/><line x1="992.6" x2="995.2" y1="333.27" y2="333.27"/><line x1="992.6" x2="995.2" y1="343.55" y2="343.55"/><line x1="992.6" x2="995.2" y1="353.84" y2="353.84"/><line x1="992.6" x2="995.2" y1="364.12" y2="364.12"/><line x1="992.6" x2="996.2" y1="374.41" y2="374.41"/><line x1="992.6" x2="995.2" y1="384.70" y2="384.70"/><line x1="992.6" x2="995.2" y1="394.98" y2="394.98"/><line x1="992.6" x2="995.2" y1="405.27" y2="405.27"/><line x1="992.6" x2="995.2" y1="415.55" y2="415.55"/></g>
<g fill="#222" stroke="#222"><text transform="matrix(0.9389 0.000469 0 1 997.50 16.85)">1.34000</text><text transform="matrix(0.9389 0.000469 0 1 997.50 68.28)">1.33500</text><text transform="matrix(0.9389 0.000469 0 1 997.50 119.71)">1.33000</text><text transform="matrix(0.9389 0.000469 0 1 997.50 222.57)">1.32000</text><text transform="matrix(0.9389 0.000469 0 1 997.50 274.00)">1.31500</text><text transform="matrix(0.9389 0.000469 0 1 997.50 325.43)">1.31000</text><text transform="matrix(0.9389 0.000469 0 1 997.50 376.86)">1.30500</text></g>
<rect x="994.2" y="103.95" width="28" height="10.1" fill="#4a4a4a"/>
<rect x="993.5" y="103.35" width="27.9" height="10" fill="#fdfde0" stroke="#2e2e2e" stroke-width="0.8"/>
<path d="M993.6 107.05L992.3 108.45L993.6 109.85Z" fill="#2e2e2e"/>
<text transform="matrix(0.9389 0.000469 0 1 996.10 110.75)" fill="#1a1a1a" stroke="#1a1a1a">1.33090</text>
<rect x="994.2" y="162.05" width="28" height="10.1" fill="#4a4a4a"/>
<rect x="993.5" y="161.45" width="27.9" height="10" fill="#fdfde0" stroke="#2e2e2e" stroke-width="0.8"/>
<path d="M993.6 165.15L992.3 166.55L993.6 167.95Z" fill="#2e2e2e"/>
<text transform="matrix(0.9389 0.000469 0 1 996.10 168.85)" fill="#1a1a1a" stroke="#1a1a1a">1.32521</text>
<rect x="5.9" y="4.6" width="9.1" height="9.4" fill="url(#gi)"/>
<text transform="matrix(0.9751 0.000488 0 1 7.20 12.00)" fill="#9edcb0" font-weight="bold" font-size="5.8">Fx</text>
<text transform="matrix(0.8483 0.000424 0 1 17.80 12.30)" fill="#222" stroke="#222" font-size="6.7">USDCAD</text>
<path d="M44.9 8.05H48.6L46.75 10.55Z" fill="#111"/>
<path d="M980 14.6L981.7 9.9L983.7 10.1L985 7.1L988.2 7.1L986.1 11.4L984.1 11.7L982.3 11.9Z" fill="url(#gg)"/>
<rect x="912.5" y="259.4" width="71.3" height="50" fill="#fff" stroke="#bdbdbd" stroke-width="0.8"/>
<text transform="matrix(0.9943 0.000497 0 1 917.00 268.30)" fill="#111" font-weight="bold">USDCAD (Bid)</text>
<text transform="matrix(0.9695 0.000485 0 1 918.80 276.30)" fill="#222" stroke="#222">23-Jan-2017 9:00 AM</text>
<text transform="matrix(0.9389 0.000469 0 1 918.80 283.60)" fill="#222" stroke="#222">Open</text><text transform="matrix(0.9389 0.000469 0 1 956.77 283.60)" fill="#222" stroke="#222">1.33062</text>
<text transform="matrix(0.9389 0.000469 0 1 918.80 291.15)" fill="#222" stroke="#222">High</text><text transform="matrix(0.9389 0.000469 0 1 956.77 291.15)" fill="#222" stroke="#222">1.33130</text>
<text transform="matrix(0.9389 0.000469 0 1 918.80 298.70)" fill="#222" stroke="#222">Low</text><text transform="matrix(0.9389 0.000469 0 1 956.77 298.70)" fill="#222" stroke="#222">1.33062</text>
<text transform="matrix(0.9389 0.000469 0 1 918.80 306.25)" fill="#222" stroke="#222">Close</text><text transform="matrix(0.9389 0.000469 0 1 956.77 306.25)" fill="#222" stroke="#222">1.33090</text>
</svg></body></html>
